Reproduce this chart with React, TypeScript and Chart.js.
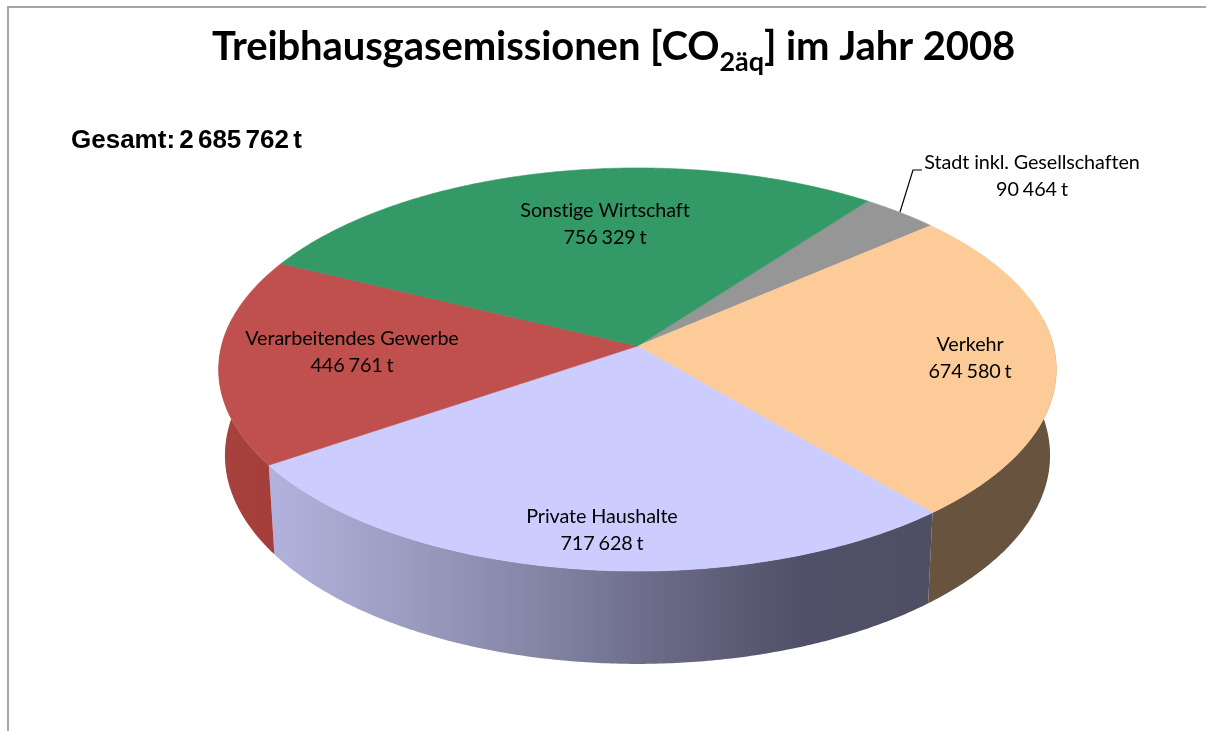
import React, { useEffect, useRef } from "react";
import { Chart, registerables } from "chart.js";

Chart.register(...registerables);

const categories = ["Stadt inkl. Gesellschaften", "Verkehr", "Private Haushalte", "Verarbeitendes Gewerbe", "Sonstige Wirtschaft"];
const emissions = [90464, 674580, 717628, 446761, 756329];
const totalLabel = "Gesamt: 2 685 762 t";
const topColors = ["#969696", "#FDCB98", "#CCCCFF", "#C0504D", "#339966"];
const sideStops: string[][] = [
  ["#6a6a6a", "#6a6a6a"],
  ["#68533E", "#68533E"],
  ["#B2B2DE", "#9D9DC2", "#8585A6", "#696986", "#505068", "#4E4F63"],
  ["#A8423F", "#A33E3B"],
  ["#24734c", "#24734c"],
];
const labelCenters = [
  [1032, 174.5],
  [970, 357],
  [602, 529],
  [352, 351],
  [605, 223],
];

const ASPECT = 416 / 198.8;
const PERSP = 0.1166;
const LOWER_DX = 0.985;
const LOWER_DY = 1.035;
const DEPTH = 85;
const DEG = Math.PI / 180;

function project(a: any, t: number, lower: boolean) {
  const w = 1 - PERSP * Math.sin(t);
  const px = (a.outerRadius * ASPECT * Math.cos(t)) / w;
  const py = (a.outerRadius * Math.sin(t)) / w;
  return lower
    ? [a.x + LOWER_DX * px, a.y + DEPTH + LOWER_DY * py]
    : [a.x + px, a.y + py];
}

function fmt(v: number) {
  return String(v).replace(/\B(?=(\d{3})+$)/g, " ") + " t";
}

const pie3d = {
  id: "pie3d",
  beforeDraw(chart: any) {
    const c = chart.ctx;
    c.save();
    c.fillStyle = "#fff";
    c.fillRect(0, 0, chart.width, chart.height);
    c.strokeStyle = "#a6a6a6";
    c.lineWidth = 2;
    c.beginPath();
    c.moveTo(8, chart.height);
    c.lineTo(8, 7);
    c.lineTo(chart.width, 7);
    c.stroke();
    c.restore();
  },
  beforeDatasetsDraw(chart: any) {
    const c = chart.ctx;
    const arcs = chart.getDatasetMeta(0).data;
    const lo = -8 * DEG;
    const hi = 188 * DEG;
    c.save();
    arcs.forEach((a: any, i: number) => {
      const s = Math.max(a.startAngle, lo);
      const e = Math.min(a.endAngle, hi);
      if (e <= s) return;
      const upper: number[][] = [];
      const bottom: number[][] = [];
      for (let t = s; t < e; t += DEG / 2) {
        upper.push(project(a, t, false));
        bottom.push(project(a, t, true));
      }
      upper.push(project(a, e, false));
      bottom.push(project(a, e, true));
      const pts = upper.concat(bottom.reverse());
      const xs = pts.map((p) => p[0]);
      const g = c.createLinearGradient(Math.min(...xs), 0, Math.max(...xs), 0);
      sideStops[i].forEach((col, k, l) => g.addColorStop(k / (l.length - 1), col));
      c.fillStyle = g;
      c.beginPath();
      pts.forEach((p, k) => (k ? c.lineTo(p[0], p[1]) : c.moveTo(p[0], p[1])));
      c.closePath();
      c.fill();
    });
    arcs.forEach((a: any, i: number) => {
      c.fillStyle = topColors[i];
      c.strokeStyle = topColors[i];
      c.lineWidth = 0.6;
      c.beginPath();
      c.moveTo(a.x, a.y);
      for (let t = a.startAngle; t < a.endAngle; t += DEG / 2) {
        const p = project(a, t, false);
        c.lineTo(p[0], p[1]);
      }
      const p = project(a, a.endAngle, false);
      c.lineTo(p[0], p[1]);
      c.closePath();
      c.fill();
      c.stroke();
    });
    c.restore();
    return false;
  },
  afterDraw(chart: any) {
    const c = chart.ctx;
    c.save();
    c.fillStyle = "#000";
    c.textBaseline = "alphabetic";
    c.textAlign = "left";

    // title with subscript
    const big = "bold 40px Lato";
    const small = "bold 27px Lato";
    (c as any).letterSpacing = "-0.08px";
    let x = 212;
    c.font = big;
    c.fillText("Treibhausgasemissionen [CO", x, 60);
    x += c.measureText("Treibhausgasemissionen [CO").width;
    c.font = small;
    c.fillText("2äq", x, 71);
    x += c.measureText("2äq").width;
    c.font = big;
    c.fillText("] im Jahr 2008", x, 60);
    (c as any).letterSpacing = "0px";

    // total
    c.font = "bold 26px 'Liberation Sans'";
    (c as any).wordSpacing = "-3px";
    c.fillText(totalLabel, 71, 147.5);
    (c as any).wordSpacing = "0px";

    // slice labels
    c.font = "19.8px Lato";
    c.textAlign = "center";
    (c as any).letterSpacing = "-0.1px";
    categories.forEach((name, i) => {
      const [lx, ly] = labelCenters[i];
      c.fillText(name, lx, ly - 6);
      (c as any).wordSpacing = "-1px";
      c.fillText(fmt(emissions[i]), lx, ly + 21);
      (c as any).wordSpacing = "0px";
    });
    (c as any).letterSpacing = "0px";

    // leader line
    c.strokeStyle = "#000";
    c.lineWidth = 1.2;
    c.beginPath();
    c.moveTo(900, 212);
    c.lineTo(913, 170);
    c.lineTo(922, 170);
    c.stroke();
    c.restore();
  },
};

export default function App() {
  const ref = useRef<HTMLCanvasElement>(null);
  useEffect(() => {
    const chart = new Chart(ref.current!, {
      type: "pie",
      data: {
        labels: categories,
        datasets: [{ data: emissions, backgroundColor: topColors, borderWidth: 0 }],
      },
      options: {
        responsive: false,
        animation: false,
        rotation: 37.2,
        layout: { padding: { left: 438.7, right: 369.7, top: 147.2, bottom: 186.2 } },
        plugins: { legend: { display: false }, tooltip: { enabled: false }, title: { display: false } },
      },
      plugins: [pie3d],
    } as any);
    return () => chart.destroy();
  }, []);
  return (
    <canvas
      ref={ref}
      width={1206}
      height={731}
      style={{ position: "fixed", left: 0, top: 0, display: "block" }}
    />
  );
}
